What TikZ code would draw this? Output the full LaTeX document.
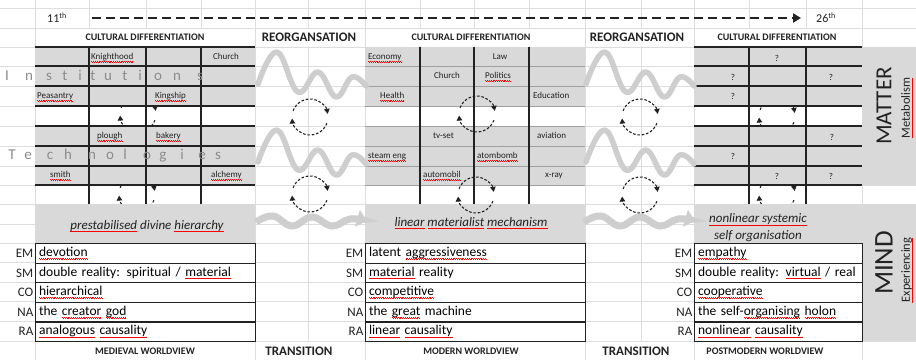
\documentclass[tikz,border=0pt]{standalone}
\usepackage{fontspec}
\setmainfont{Carlito}
\usetikzlibrary{arrows.meta}

\definecolor{cellgrey}{HTML}{D9D9D9}
\definecolor{gridline}{HTML}{DDDDDD}
\definecolor{swell}{HTML}{CECECE}
\definecolor{faint}{HTML}{8C8C8C}
\definecolor{ink}{HTML}{222222}

% red wavy underline of the spell checker
\newcommand\typo[1]{\leavevmode\setbox0\hbox{#1}%
  \rlap{\color{red}\hbox to \wd0{\xleaders\hbox{\rule[-2.3pt]{.9pt}{.6pt}\rule[-2.9pt]{.9pt}{.6pt}}\hfil}}\box0\relax}

\tikzset{
  turnover/.pic={
    \draw[ring] (20:18) arc[start angle=20,end angle=175,radius=18];
    \draw[ring] (200:18) arc[start angle=200,end angle=350,radius=18];
  }
}

\begin{document}
\begin{tikzpicture}[x=1pt,y=-1pt,
  gridrule/.style={gridline,line width=.8pt},
  rule/.style={ink,line width=1.2pt},
  softrule/.style={gray!75,line width=.9pt},
  ring/.style={ink,line width=1.1pt,dash pattern=on 2.6pt off 1.8pt,-{Triangle[length=5pt,width=5.5pt]}},
  swellline/.style={swell,line width=5.5pt,line cap=round,line join=round},
  swellarrow/.style={swell,line width=7pt,-{Triangle[length=10pt,width=17pt]}},
  timeline/.style={ink,line width=2.6pt,dash pattern=on 9pt off 5pt,-{Triangle[length=8pt,width=9pt]}},
  cell/.style={inner sep=0pt,ink,font=\fontsize{9}{10}\selectfont,text height=6pt,text depth=1.5pt},
  spaced/.style={anchor=base,inner sep=0pt,faint,font=\fontsize{15}{16}\selectfont},
  head/.style={inner sep=0pt,ink,font=\bfseries\fontsize{10}{12}\selectfont},
  bighead/.style={inner sep=0pt,ink,font=\bfseries\fontsize{13}{14}\selectfont},
  view/.style={inner sep=0pt,ink,align=center,font=\itshape\fontsize{13}{17}\selectfont},
  emrow/.style={draw=ink,line width=1.1pt,fill=white,anchor=north west,inner xsep=3.5pt,inner ysep=0pt,minimum height=19.6pt,align=left,font=\fontsize{13.5}{14}\selectfont},
  emlab/.style={anchor=east,inner xsep=1.5pt,inner ysep=0pt,ink,font=\fontsize{13}{14}\selectfont},
  side/.style={rotate=90,inner sep=0pt,ink}]

\fill[white] (0,0) rectangle (916,360);
\useasboundingbox (0,0) rectangle (916,360);

% sheet grid
\foreach \x in {35,89,146,201,255,308,365,420,474,529,585,641,694,749,806,862}
  \draw[gridrule] (\x,0) -- (\x,360);
\foreach \y in {8,28,47,66,86,106,126,146,166,185,204,224,243,262,282,301,321,341}
  \draw[gridrule] (0,\y) -- (916,\y);

% merged title cells
\foreach \a/\b in {35/255,255/365,365/585,585/694,694/862}{
  \fill[white] (\a+1,29) rectangle (\b-1,46);
  \fill[white] (\a+1,342) rectangle (\b-1,360);
}

% cycles half hidden under the first and last blocks
\pic (c1) at (138,114) {turnover};
\pic (c2) at (137,194) {turnover};
\pic (c9) at (777,116) {turnover};
\pic (c10) at (777,194) {turnover};

% cell blocks
\fill[cellgrey] (35,47) rectangle (255,106) (35,126) rectangle (255,185);
\fill[cellgrey] (365,47) rectangle (585,106) (365,126) rectangle (585,185);
\fill[cellgrey] (694,47) rectangle (862,106) (694,126) rectangle (862,185);
\fill[cellgrey] (35,204) rectangle (255,243) (365,204) rectangle (585,243) (694,204) rectangle (862,243);
\fill[cellgrey] (862,47) rectangle (916,185) (862,204) rectangle (916,341);

\foreach \y in {47,66,86,106,126,146,166,185}{
  \draw[rule] (35,\y) -- (255,\y);
  \draw[rule] (694,\y) -- (862,\y);
}
\foreach \y in {66,86,106,126,146,166,185}
  \draw[softrule] (365,\y) -- (585,\y);
\foreach \x in {89,146,201,420,474,529,749,806}
  \draw[rule] (\x,47) -- (\x,204);

% transition waves
\foreach \dx in {0,328}{
  \foreach \dy in {0,78}
    \draw[swellline,shift={(\dx,\dy)}] plot[smooth,tension=.7] coordinates {(258,84) (277,52) (298,92) (318,72) (336,97) (352,77) (366,86)};
  \draw[swellarrow,shift={(\dx,0)}] plot[smooth,tension=.7] coordinates {(256,222) (273,216) (292,226) (312,217) (332,226) (350,219) (367,221)};
}

\pic (c3) at (310,117) {turnover};
\pic (c4) at (310,194) {turnover};
\pic (c5) at (477,114) {turnover};
\pic (c6) at (476,195) {turnover};
\pic (c7) at (640,117) {turnover};
\pic (c8) at (640,195) {turnover};

% time line
\node[inner sep=0pt,ink,font=\fontsize{12}{13}\selectfont] (from) at (57,18) {11\textsuperscript{th}};
\node[inner sep=0pt,ink,font=\fontsize{12}{13}\selectfont] (to) at (826,18) {26\textsuperscript{th}};
\draw[timeline,shorten <=25pt,shorten >=15pt] (from) -- (to);

\node[head] (cd1) at (145,37.5) {CULTURAL DIFFERENTIATION};
\node[bighead] (ro1) at (309,37.5) {REORGANSATION};
\node[head] (cd2) at (471,37.5) {CULTURAL DIFFERENTIATION};
\node[bighead] (ro2) at (637,37.5) {REORGANSATION};
\node[head] (cd3) at (777,37.5) {CULTURAL DIFFERENTIATION};

\node[head] (mw) at (145,351) {MEDIEVAL WORLDVIEW};
\node[bighead] (tr1) at (299,351) {TRANSITION};
\node[head] (modw) at (471,351) {MODERN WORLDVIEW};
\node[bighead] (tr2) at (636,351) {TRANSITION};
\node[head] (pmw) at (765,351) {POSTMODERN WORLDVIEW};

% spaced row titles
\foreach \c/\x [count=\k] in {I/7,n/29,s/49,t/65,i/80,t/93,u/108,t/125,i/140,o/158,n/177,s/200}
  \node[spaced] (ins\k) at (\x,80.5) {\c};
\foreach \c/\x [count=\k] in {T/12,e/28,c/50,h/68,n/92,o/110,l/125,o/147,g/163,i/182,e/202,s/218}
  \node[spaced] (tec\k) at (\x,159.5) {\c};

% medieval cells
\node[cell,anchor=west] (knight) at (91,57) {\typo{Knighthood}};
\node[cell] (church1) at (226,57) {Church};
\node[cell,anchor=west] (peasant) at (37,96) {\typo{Peasantry}};
\node[cell,anchor=west] (king) at (155,96) {\typo{Kingship}};
\node[cell,anchor=west] (plough) at (97,136) {\typo{plough}};
\node[cell,anchor=west] (bakery) at (156,136) {\typo{bakery}};
\node[cell,anchor=west] (smith) at (50,175) {\typo{smith}};
\node[cell,anchor=west] (alchemy) at (211,175) {\typo{alchemy}};

% modern cells
\node[cell,anchor=west] (economy) at (368,57) {\typo{Economy}};
\node[cell] (law) at (500,57) {Law};
\node[cell] (church2) at (447,76) {Church};
\node[cell,anchor=west] (politics) at (485,76) {\typo{Politics}};
\node[cell,anchor=west] (health) at (380,96) {\typo{Health}};
\node[cell,anchor=west] (edu) at (533,96) {Education};
\node[cell,anchor=west] (tvset) at (433,136) {tv-set};
\node[cell,anchor=west] (aviation) at (537,136) {aviation};
\node[cell,anchor=west] (steam) at (368,156) {\typo{steam eng}};
\node[cell,anchor=west] (atom) at (477,156) {\typo{atombomb}};
\node[cell,anchor=west] (auto) at (423,175) {\typo{automobil}};
\node[cell,anchor=west] (xray) at (545,175) {x-ray};

% postmodern cells
\foreach \x/\y [count=\k] in {777/59,733/78,831/78,733/97,832/138,733/157,777/177,831/177}
  \node[cell] (q\k) at (\x,\y) {?};

\node[view] (medview) at (147,226) {\typo{prestabilised} divine \typo{hierarchy}};
\node[view] (modview) at (471,223) {\typo{linear} \typo{materialist} \typo{mechanism}};
\node[view] (pmview) at (758,228) {\typo{nonlinear systemic}\\ self organisation};

\foreach \lab/\txt [count=\i from 0] in {EM/{\typo{devotion}},SM/{double reality: spiritual / \typo{material}},CO/{\typo{hierarchical}},NA/{the \typo{creator} \typo{god}},RA/{\typo{analogous} \typo{causality}}}{
  \node[emrow,text width=213pt] (med\i) at (35,243+19.6*\i) {\txt};
  \node[emlab] (medl\i) at (med\i.west) {\lab};
}
\foreach \lab/\txt [count=\i from 0] in {EM/{latent \typo{aggressiveness}},SM/{\typo{material} reality},CO/{\typo{competitive}},NA/{the \typo{great} machine},RA/{\typo{linear} \typo{causality}}}{
  \node[emrow,text width=213pt] (mod\i) at (365,243+19.6*\i) {\txt};
  \node[emlab] (modl\i) at (mod\i.west) {\lab};
}
\foreach \lab/\txt [count=\i from 0] in {EM/{\typo{empathy}},SM/{double reality: \typo{virtual} / real},CO/{\typo{cooperative}},NA/{the self-\typo{organising} \typo{holon}},RA/{\typo{nonlinear} \typo{causality}}}{
  \node[emrow,text width=161pt] (pm\i) at (694,243+19.6*\i) {\txt};
  \node[emlab] (pml\i) at (pm\i.west) {\lab};
}

\node[side,font=\fontsize{23}{24}\selectfont] (matter) at (884,106) {MATTER};
\node[side,font=\fontsize{12.5}{13}\selectfont] (metab) at (907,108) {\typo{Metabolism}};
\node[side,font=\fontsize{27}{28}\selectfont] (mind) at (884,263) {MIND};
\node[side,font=\fontsize{12.5}{13}\selectfont] (exper) at (907,270) {\typo{Experiencing}};
\end{tikzpicture}
\end{document}
